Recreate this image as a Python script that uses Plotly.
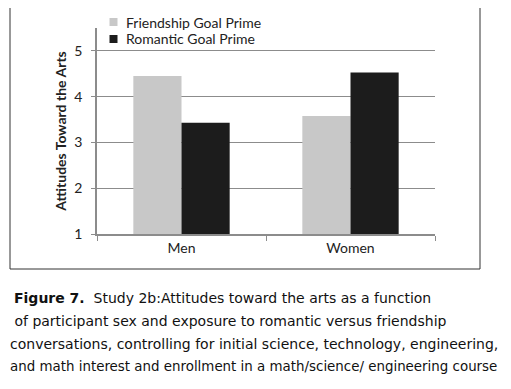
import plotly.graph_objects as go

categories = ["Men", "Women"]
friendship = [4.45, 3.58]
romantic = [3.43, 4.53]
series_names = ["Friendship Goal Prime", "Romantic Goal Prime"]
series_colors = ["#c8c8c8", "#1c1c1c"]
y_ticks = [1, 2, 3, 4, 5]
caption_lines = [
    "<b>Figure 7.</b>  Study 2b:Attitudes toward the arts as a function",
    " of participant sex and exposure to romantic versus friendship",
    "conversations, controlling for initial science, technology, engineering,",
    "and math interest and enrollment in a math/science/ engineering course",
]

OFFX, OFFY = 8, 8  # page body margin
W, H = 511 - OFFX, 389 - 2 * OFFY
L, R, T, B = 97 - OFFX, 435 - OFFX, 28 - OFFY, 234 - OFFY

def px(x):
    return (x - OFFX - L) / (R - L)

def py(y):
    return (B - (y - OFFY)) / (B - T)

fig = go.Figure()
for name, vals, col in zip(series_names, [friendship, romantic], series_colors):
    fig.add_trace(go.Bar(x=categories, y=[v - 1 for v in vals], base=1,
                         name=name, marker_color=col, marker_line_width=0,
                         showlegend=False))

font_chart = "Lato, 'Open Sans', sans-serif"

fig.update_layout(
    width=W, height=H,
    margin=dict(l=L, r=W - R, t=T, b=H - B, autoexpand=False),
    paper_bgcolor="white", plot_bgcolor="white",
    barmode="group", bargap=0.43, bargroupgap=0,
    font=dict(family=font_chart, size=13, color="#222"),
    showlegend=False,
    xaxis=dict(showline=True, linecolor="#8c8c8c", linewidth=1.5,
               ticks="outside", tickson="boundaries", ticklen=5,
               tickcolor="#8c8c8c", tickfont=dict(size=14, color="#222"),
               showgrid=False),
    yaxis=dict(range=[1, 5.5], tickvals=y_ticks, showline=True,
               linecolor="#8c8c8c", linewidth=1.5, showgrid=True,
               gridcolor="#8c8c8c", gridwidth=1.2, ticks="outside",
               ticklen=4, tickcolor="#8c8c8c", ticklabelstandoff=6,
               tickfont=dict(size=14, color="#222"), zeroline=False,
               title=dict(text="<b>Attitudes Toward the Arts</b>",
                          font=dict(size=14, color="#222"), standoff=4)),
)

# legend (squares + labels)
leg_y = [22, 39]
for name, col, yy in zip(series_names, series_colors, leg_y):
    fig.add_shape(type="rect", xref="paper", yref="paper",
                  x0=px(109.5), x1=px(117.5), y0=py(yy + 4), y1=py(yy - 4),
                  fillcolor=col, line_width=0)
    fig.add_annotation(text=name, xref="paper", yref="paper",
                       x=px(124), y=py(yy), xanchor="left", yanchor="middle",
                       showarrow=False, font=dict(size=14, color="#222"))

fig.add_shape(type="rect", xref="paper", yref="paper",
              x0=px(10), x1=px(480), y0=py(269), y1=py(5),
              line=dict(color="#333", width=1))

line_y = [298, 321, 344, 366]
line_x = [12, 8, 8, 8]
line_size = [14, 14, 14, 13.4]
for txt, yy, xx, fs in zip(caption_lines, line_y, line_x, line_size):
    fig.add_annotation(text=txt, xref="paper", yref="paper",
                       x=px(xx), y=py(yy), xanchor="left", yanchor="middle",
                       showarrow=False,
                       font=dict(family="'DejaVu Sans', sans-serif", size=fs,
                                 color="#111"))

fig.write_html("out.html")
